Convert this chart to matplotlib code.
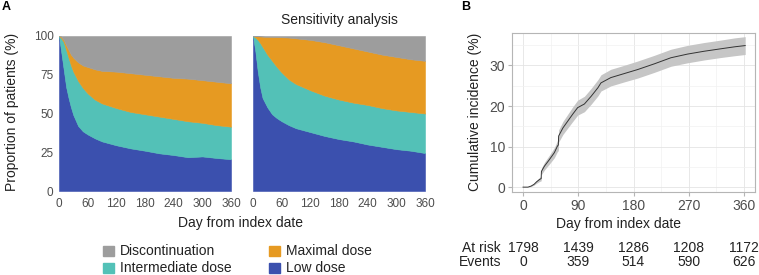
import numpy as np
import matplotlib.pyplot as plt
from matplotlib.patches import Rectangle
from matplotlib.transforms import blended_transform_factory

plt.rcParams['font.family'] = ['Liberation Sans', 'DejaVu Sans']

# Panel A: cumulative share (%) at the upper edge of each band
days = [0, 5, 10, 15, 20, 25, 30, 40, 50, 60, 75, 90, 120, 150, 180, 210, 240, 270, 300, 330, 360]

main_low = [100, 89, 78, 67, 60, 54, 49, 42, 38.5, 36.5, 34, 32, 29.5, 27.5, 26, 24.3, 23.2, 21.8, 22.3, 21.3, 20.5]
main_low_inter = [100, 98.5, 96, 91, 86, 81, 77, 71, 66.5, 63, 59, 56.5, 53.5, 51, 49.5, 48, 46.5, 45, 44, 42.5, 41.5]
main_low_inter_max = [100, 99.5, 97.5, 94, 91, 88, 86, 83, 81, 80, 78.5, 77.5, 77, 76, 75, 74, 73, 72.5, 71.5, 70.5, 69.5]

sens_low = [100, 90, 77, 67, 60, 57, 54, 49.5, 47, 45, 42.5, 40.5, 38, 35.5, 33.5, 32, 30, 28.5, 27, 26, 24.5]
sens_low_inter = [100, 99, 97.5, 95.5, 93, 90.5, 88, 84, 80, 76.5, 72, 69, 65, 61.5, 59, 57, 55.5, 53.5, 52, 51, 50]
sens_low_inter_max = [100, 100, 99.8, 99.7, 99.6, 99.5, 99.5, 99.4, 99.3, 99.2, 99, 98.5, 97.5, 96, 94, 92, 90, 88, 86.5, 85, 84]

categories = ['Discontinuation', 'Maximal dose', 'Intermediate dose', 'Low dose']

# Panel B: cumulative incidence (%) and half-width of the confidence band
days_b = [0, 8, 13, 18, 22, 27, 29.5, 30, 35, 43, 51, 56, 57.5, 58, 65, 73, 81, 89, 100, 111,
          122, 127, 143, 165, 187, 214, 241, 268, 295, 322, 345, 362]
incidence = [0, 0, 0.25, 0.7, 1.3, 1.9, 2.1, 3.9, 5.2, 6.8, 8.5, 10.1, 10.4, 12.6, 14.6, 16.3, 18, 19.6, 20.5, 22.4,
             24.5, 25.7, 27, 28, 29, 30.4, 31.9, 32.8, 33.5, 34.1, 34.6, 34.9]
ci_half = [0, 0, 0.1, 0.2, 0.35, 0.5, 0.55, 0.8, 0.95, 1.1, 1.25, 1.35, 1.4, 1.5, 1.6, 1.7, 1.8, 1.85, 1.9, 1.95,
           2.0, 2.0, 2.05, 2.05, 2.1, 2.1, 2.1, 2.15, 2.15, 2.15, 2.2, 2.2]

risk_days = [0, 90, 180, 270, 360]
at_risk = [1798, 1439, 1286, 1208, 1172]
events = [0, 359, 514, 590, 626]

blue = '#3b50ae'
teal = '#53c1b7'
orange = '#e69a22'
grey = '#9d9d9d'
tick_col = '#4d4d4d'
text_col = '#222222'

W, H = 759, 275
fig = plt.figure(figsize=(W / 100, H / 100), dpi=100)


def box(x0, y0, x1, y1):
    return [x0 / W, 1 - y1 / H, (x1 - x0) / W, (y1 - y0) / H]


def draw_stack(ax, low, low_inter, low_inter_max, show_y):
    d = np.array(days)
    bands = [(np.zeros(len(d)), low, blue),
             (low, low_inter, teal),
             (low_inter, low_inter_max, orange),
             (low_inter_max, np.full(len(d), 100.0), grey)]
    for lo, hi, c in bands:
        ax.fill_between(d, lo, hi, color=c, edgecolor=c, linewidth=0.4)
    ax.set_xlim(0, 360)
    ax.set_ylim(0, 100)
    ax.set_xticks(np.arange(0, 361, 60))
    ax.set_yticks([0, 25, 50, 75, 100])
    for s in ax.spines.values():
        s.set_visible(False)
    ax.tick_params(length=0, labelsize=8.5, labelcolor=tick_col, pad=4)
    ax.tick_params(axis='x', pad=5)
    if not show_y:
        ax.set_yticklabels([])


ax_main = fig.add_axes(box(59, 36, 231, 191))
draw_stack(ax_main, main_low, main_low_inter, main_low_inter_max, True)
ax_sens = fig.add_axes(box(253, 36, 425, 191))
draw_stack(ax_sens, sens_low, sens_low_inter, sens_low_inter_max, False)

fig.text(339 / W, 1 - 20 / H, 'Sensitivity analysis', ha='center', va='center', fontsize=10, color=text_col)
fig.text(241 / W, 1 - 223 / H, 'Day from index date', ha='center', va='center', fontsize=10, color=text_col)
fig.text(12 / W, 1 - 112 / H, 'Proportion of patients (%)', ha='center', va='center',
         rotation=90, fontsize=10, color=text_col)
fig.text(2 / W, 1 - 7 / H, 'A', ha='left', va='center', fontsize=9, fontweight='bold')
fig.text(461 / W, 1 - 7 / H, 'B', ha='left', va='center', fontsize=9, fontweight='bold')

# legend, two columns
leg_colors = {'Discontinuation': grey, 'Maximal dose': orange, 'Intermediate dose': teal, 'Low dose': blue}
leg_pos = {'Discontinuation': (103, 251), 'Maximal dose': (269, 251),
           'Intermediate dose': (103, 268), 'Low dose': (269, 268)}
for name in categories:
    x, y = leg_pos[name]
    fig.patches.append(Rectangle((x / W, 1 - (y + 5) / H), 11 / W, 10 / H,
                                 transform=fig.transFigure, color=leg_colors[name]))
    fig.text((x + 17) / W, 1 - y / H, name, ha='left', va='center', fontsize=10, color=text_col)

# Panel B
ax_b = fig.add_axes(box(512, 33, 755, 192))
lower = np.array(incidence) - np.array(ci_half)
upper = np.array(incidence) + np.array(ci_half)
ax_b.fill_between(days_b, lower, upper, color='#c6c6c6', linewidth=0)
ax_b.plot(days_b, incidence, color='#333333', linewidth=0.7)
ax_b.set_xlim(-18, 378)
ax_b.set_ylim(-1.2, 38)
ax_b.set_xticks(risk_days)
ax_b.set_xticks([45, 135, 225, 315], minor=True)
ax_b.set_yticks([0, 10, 20, 30])
ax_b.set_yticks([5, 15, 25, 35], minor=True)
ax_b.grid(which='major', color='#e4e4e4', linewidth=0.6)
ax_b.grid(which='minor', color='#f1f1f1', linewidth=0.5)
ax_b.set_axisbelow(True)
for s in ax_b.spines.values():
    s.set_color('#b5b5b5')
    s.set_linewidth(0.8)
ax_b.tick_params(which='major', length=3, color='#b5b5b5', labelsize=10, labelcolor=tick_col, pad=2)
ax_b.tick_params(which='minor', length=0)
fig.text(618 / W, 1 - 224 / H, 'Day from index date', ha='center', va='center', fontsize=10, color=text_col)
fig.text(475 / W, 1 - 112 / H, 'Cumulative incidence (%)', ha='center', va='center',
         rotation=90, fontsize=10, color=text_col)

tr = blended_transform_factory(ax_b.transData, fig.transFigure)
fig.text(501 / W, 1 - 248 / H, 'At risk', ha='right', va='center', fontsize=10, color=text_col)
fig.text(501 / W, 1 - 262 / H, 'Events', ha='right', va='center', fontsize=10, color=text_col)
for d, r, e in zip(risk_days, at_risk, events):
    ax_b.text(d, 1 - 248 / H, str(r), transform=tr, ha='center', va='center', fontsize=10, color=text_col)
    ax_b.text(d, 1 - 262 / H, str(e), transform=tr, ha='center', va='center', fontsize=10, color=text_col)

fig.savefig('out.png', dpi=100)
